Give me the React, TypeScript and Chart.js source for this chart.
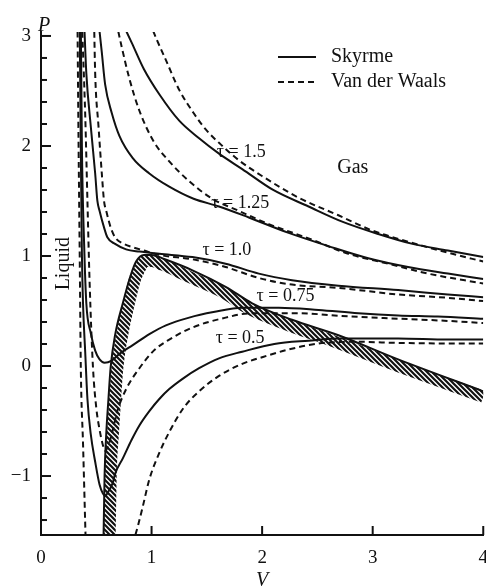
import React, { useEffect, useRef } from 'react';
import Chart from 'chart.js/auto';

const INK = '#111111';
const FONT = "'Liberation Serif', 'Times New Roman', serif";

// ---- axes ----
const X_MIN = 0;
const X_MAX = 4;
const Y_MIN = -1.536;
const Y_MAX = 3.036;
const X_TICKS = [0, 1, 2, 3, 4];
const Y_TICKS = [-1.4, -1.2, -1, -0.8, -0.6, -0.4, -0.2, 0, 0.2, 0.4, 0.6, 0.8, 1, 1.2, 1.4, 1.6, 1.8, 2, 2.2, 2.4, 2.6, 2.8, 3];
const Y_MAJOR = [-1, 0, 1, 2, 3];
const Y_LABELS = ['\u22121', '0', '1', '2', '3'];

// ---- Skyrme isotherms (solid) ----
const V_S15 = [0.73, 0.82, 0.93, 1.07, 1.25, 1.43, 1.61, 1.82, 2.10, 2.42, 2.73, 3.05, 3.36, 3.68, 4.0];
const P_S15 = [3.13, 2.94, 2.70, 2.47, 2.23, 2.07, 1.93, 1.79, 1.60, 1.45, 1.31, 1.20, 1.11, 1.05, 0.99];

const V_S125 = [0.52, 0.55, 0.58, 0.64, 0.71, 0.83, 0.98, 1.16, 1.38, 1.61, 1.88, 2.24, 2.60, 2.96, 3.32, 3.68, 4.0];
const P_S125 = [3.13, 2.85, 2.56, 2.30, 2.09, 1.89, 1.75, 1.63, 1.52, 1.45, 1.35, 1.21, 1.09, 0.98, 0.90, 0.84, 0.79];

const V_S10 = [0.39, 0.41, 0.45, 0.49, 0.51, 0.53, 0.57, 0.60, 0.67, 0.77, 0.89, 1.07, 1.37, 1.67, 1.97, 2.27, 2.69, 3.23, 3.68, 4.0];
const P_S10 = [3.13, 2.66, 2.18, 1.75, 1.50, 1.41, 1.26, 1.17, 1.11, 1.06, 1.04, 1.02, 0.99, 0.93, 0.84, 0.78, 0.73, 0.69, 0.65, 0.625];

const V_S075 = [0.36, 0.37, 0.39, 0.41, 0.45, 0.49, 0.53, 0.575, 0.64, 0.71, 0.83, 0.98, 1.13, 1.34, 1.56, 1.82, 2.15, 2.51, 2.87, 3.23, 3.59, 4.0];
const P_S075 = [3.13, 1.99, 1.11, 0.57, 0.30, 0.14, 0.06, 0.03, 0.05, 0.11, 0.19, 0.29, 0.37, 0.44, 0.49, 0.53, 0.53, 0.51, 0.48, 0.46, 0.45, 0.43];

const V_S05 = [0.35, 0.36, 0.37, 0.38, 0.40, 0.42, 0.45, 0.49, 0.53, 0.56, 0.58, 0.61, 0.65, 0.67, 0.74, 0.82, 0.89, 0.98, 1.07, 1.16, 1.29, 1.43, 1.61, 1.82, 2.11, 2.42, 2.71, 3.23, 3.68, 4.0];
const P_S05 = [3.13, 1.99, 1.02, 0.57, 0.125, -0.30, -0.62, -0.87, -1.08, -1.16, -1.18, -1.14, -1.06, -0.98, -0.84, -0.67, -0.54, -0.41, -0.30, -0.21, -0.11, -0.02, 0.07, 0.13, 0.20, 0.23, 0.25, 0.25, 0.24, 0.24];

// ---- Van der Waals isotherms (dashed) ----
const V_D15 = [0.98, 1.05, 1.13, 1.25, 1.38, 1.49, 1.63, 1.79, 2.01, 2.33, 2.69, 3.00, 3.32, 3.68, 4.0];
const P_D15 = [3.13, 2.96, 2.78, 2.51, 2.30, 2.15, 2.01, 1.87, 1.72, 1.53, 1.37, 1.23, 1.13, 1.03, 0.95];

const V_D125 = [0.68, 0.73, 0.80, 0.89, 1.02, 1.16, 1.34, 1.55, 1.79, 2.06, 2.42, 2.78, 3.14, 3.50, 4.0];
const P_D125 = [3.13, 2.90, 2.61, 2.32, 2.04, 1.86, 1.68, 1.52, 1.41, 1.29, 1.16, 1.02, 0.93, 0.84, 0.75];

const V_D10 = [0.48, 0.49, 0.52, 0.55, 0.57, 0.59, 0.63, 0.67, 0.75, 0.83, 0.93, 1.07, 1.37, 1.67, 1.97, 2.27, 2.69, 3.23, 3.68, 4.0];
const P_D10 = [3.13, 2.66, 2.18, 1.75, 1.50, 1.41, 1.26, 1.17, 1.11, 1.08, 1.05, 1.01, 0.97, 0.90, 0.80, 0.74, 0.71, 0.65, 0.62, 0.59];

const V_D075 = [0.37, 0.40, 0.42, 0.44, 0.47, 0.50, 0.53, 0.56, 0.58, 0.61, 0.65, 0.69, 0.77, 0.89, 1.02, 1.16, 1.37, 1.67, 1.91, 2.33, 2.71, 3.23, 3.68, 4.0];
const P_D075 = [3.13, 2.28, 1.50, 0.75, -0.01, -0.38, -0.58, -0.72, -0.77, -0.72, -0.58, -0.41, -0.21, -0.02, 0.14, 0.24, 0.35, 0.44, 0.48, 0.48, 0.455, 0.43, 0.41, 0.39];

const V_D05_LIQ = [0.33, 0.34, 0.35, 0.36, 0.38, 0.40, 0.405];
const P_D05_LIQ = [3.13, 1.99, 1.02, -0.01, -0.70, -1.44, -1.62];
const V_D05_GAS = [0.83, 0.88, 0.92, 0.98, 1.07, 1.16, 1.29, 1.43, 1.61, 1.82, 2.00, 2.24, 2.51, 2.87, 3.23, 3.68, 4.0];
const P_D05_GAS = [-1.62, -1.44, -1.28, -1.03, -0.79, -0.60, -0.38, -0.23, -0.09, 0.02, 0.08, 0.15, 0.205, 0.22, 0.21, 0.205, 0.205];

// ---- hatched band (edge line and hatch centre) ----
const V_BAND_EDGE = [0.565, 0.575, 0.59, 0.61, 0.63, 0.67, 0.74, 0.81, 0.86, 0.93, 1.00, 1.12, 1.37, 1.67, 1.91, 2.27, 2.69, 3.23, 4.0];
const P_BAND_EDGE = [-1.6, -1.00, -0.62, -0.30, -0.01, 0.28, 0.57, 0.82, 0.95, 1.01, 1.01, 0.97, 0.87, 0.72, 0.57, 0.42, 0.28, 0.06, -0.23];
const V_BAND_MID = [0.62, 0.63, 0.65, 0.67, 0.69, 0.73, 0.79, 0.85, 0.90, 0.94, 1.00, 1.10, 1.34, 1.645, 1.88, 2.24, 2.66, 3.20, 4.0];
const P_BAND_MID = [-1.6, -1.00, -0.62, -0.30, -0.02, 0.26, 0.55, 0.79, 0.90, 0.955, 0.955, 0.92, 0.81, 0.67, 0.52, 0.37, 0.22, 0.01, -0.28];

// ---- texts ----
const LEGEND_ITEMS = ['Skyrme', 'Van der Waals'];
const CURVE_LABELS = ['\u03c4 = 1.5', '\u03c4 = 1.25', '\u03c4 = 1.0', '\u03c4 = 0.75', '\u03c4 = 0.5'];
// label anchors (left edge, vertical centre) in data units
const CURVE_LABEL_AT = [[1.59, 1.94], [1.54, 1.48], [1.46, 1.05], [1.95, 0.63], [1.58, 0.25]];
const REGION_LABELS = ['Gas', 'Liquid'];
const REGION_LABEL_AT = [[2.82, 1.80], [0.21, 0.93]];

const pts = (v: number[], p: number[]) => v.map((x, i) => ({ x, y: p[i] }));

const curve = (label: string, v: number[], p: number[], dashed: boolean) => ({
  label,
  data: pts(v, p),
  borderColor: INK,
  borderWidth: 2,
  borderDash: dashed ? [6, 4] : [],
  pointRadius: 0,
  fill: false,
  cubicInterpolationMode: 'monotone' as const,
  clip: 0,
  order: 0,
});

function makeHatch(ctx: CanvasRenderingContext2D) {
  const c = document.createElement('canvas');
  c.width = 5;
  c.height = 5;
  const g = c.getContext('2d')!;
  g.strokeStyle = INK;
  g.lineWidth = 2.2;
  g.beginPath();
  g.moveTo(-1, -1);
  g.lineTo(6, 6);
  g.moveTo(-1, 4);
  g.lineTo(1, 6);
  g.moveTo(4, -1);
  g.lineTo(6, 1);
  g.stroke();
  return ctx.createPattern(c, 'repeat');
}

const decorPlugin = {
  id: 'decor',
  afterDraw(chart: any) {
    const { ctx, chartArea } = chart;
    const xs = chart.scales.x;
    const ys = chart.scales.y;
    ctx.save();
    ctx.strokeStyle = INK;
    ctx.fillStyle = INK;
    ctx.lineWidth = 2;
    ctx.setLineDash([]);
    // inward ticks
    ys.ticks.forEach((t: any) => {
      const py = ys.getPixelForValue(t.value);
      const len = Y_MAJOR.includes(t.value) ? 10 : 6;
      ctx.beginPath();
      ctx.moveTo(chartArea.left, py);
      ctx.lineTo(chartArea.left + len, py);
      ctx.stroke();
    });
    xs.ticks.forEach((t: any) => {
      const px = xs.getPixelForValue(t.value);
      ctx.beginPath();
      ctx.moveTo(px, chartArea.bottom);
      ctx.lineTo(px, chartArea.bottom - 9);
      ctx.stroke();
    });
    // P axis title
    ctx.font = `italic 20px ${FONT}`;
    ctx.textAlign = 'center';
    ctx.textBaseline = 'middle';
    ctx.fillText('P', chartArea.left + 3, chartArea.top - 6);

    // legend
    const lx = chartArea.left + 237;
    const ly = chartArea.top + 25;
    ctx.font = `20px ${FONT}`;
    ctx.textAlign = 'left';
    LEGEND_ITEMS.forEach((name, i) => {
      const y = ly + i * 25;
      ctx.setLineDash(i === 0 ? [] : [6, 4]);
      ctx.beginPath();
      ctx.moveTo(lx, y);
      ctx.lineTo(lx + 38, y);
      ctx.stroke();
      ctx.setLineDash([]);
      ctx.fillText(name, lx + 53, y);
    });

    // curve labels
    ctx.font = `18px ${FONT}`;
    CURVE_LABELS.forEach((txt, i) => {
      const [v, p] = CURVE_LABEL_AT[i];
      ctx.fillText(txt, xs.getPixelForValue(v), ys.getPixelForValue(p));
    });

    // region labels
    ctx.font = `20px ${FONT}`;
    {
      const [v, p] = REGION_LABEL_AT[0];
      ctx.textAlign = 'center';
      ctx.fillText(REGION_LABELS[0], xs.getPixelForValue(v), ys.getPixelForValue(p));
    }
    {
      const [v, p] = REGION_LABEL_AT[1];
      ctx.translate(xs.getPixelForValue(v), ys.getPixelForValue(p));
      ctx.rotate(-Math.PI / 2);
      ctx.textAlign = 'center';
      ctx.fillText(REGION_LABELS[1], 0, 0);
    }
    ctx.restore();
  },
};

export default function App() {
  const ref = useRef<HTMLCanvasElement | null>(null);

  useEffect(() => {
    const canvas = ref.current;
    if (!canvas) return;
    const ctx2d = canvas.getContext('2d')!;
    const hatch = makeHatch(ctx2d);

    const datasets: any[] = [
      curve('Skyrme \u03c4=1.5', V_S15, P_S15, false),
      curve('Skyrme \u03c4=1.25', V_S125, P_S125, false),
      curve('Skyrme \u03c4=1.0', V_S10, P_S10, false),
      curve('Skyrme \u03c4=0.75', V_S075, P_S075, false),
      curve('Skyrme \u03c4=0.5', V_S05, P_S05, false),
      curve('VdW \u03c4=1.5', V_D15, P_D15, true),
      curve('VdW \u03c4=1.25', V_D125, P_D125, true),
      curve('VdW \u03c4=1.0', V_D10, P_D10, true),
      curve('VdW \u03c4=0.75', V_D075, P_D075, true),
      curve('VdW \u03c4=0.5 (liquid)', V_D05_LIQ, P_D05_LIQ, true),
      curve('VdW \u03c4=0.5 (gas)', V_D05_GAS, P_D05_GAS, true),
      {
        label: 'band edge',
        data: pts(V_BAND_EDGE, P_BAND_EDGE),
        borderColor: INK,
        borderWidth: 2,
        pointRadius: 0,
        fill: false,
        cubicInterpolationMode: 'monotone',
        clip: 0,
        order: 5,
      },
      {
        label: 'band hatch',
        data: pts(V_BAND_MID, P_BAND_MID),
        borderColor: hatch,
        borderWidth: 12,
        borderCapStyle: 'butt',
        borderJoinStyle: 'round',
        pointRadius: 0,
        fill: false,
        cubicInterpolationMode: 'monotone',
        clip: 0,
        order: 10,
      },
    ];

    const chart = new Chart(canvas, {
      type: 'line',
      data: { datasets },
      options: {
        animation: false,
        responsive: false,
        events: [],
        layout: { padding: { top: 32, right: 14, bottom: 0, left: 0 } },
        plugins: {
          legend: { display: false },
          tooltip: { enabled: false },
          title: { display: false },
        },
        scales: {
          x: {
            type: 'linear',
            min: X_MIN,
            max: X_MAX,
            afterBuildTicks: (s: any) => {
              s.ticks = X_TICKS.map((value) => ({ value }));
            },
            afterFit: (s: any) => {
              s.height = 65;
            },
            grid: { display: false, drawTicks: false },
            border: { display: true, color: INK, width: 2 },
            ticks: {
              color: INK,
              font: { family: FONT, size: 19 },
              padding: 12,
              autoSkip: false,
              maxRotation: 0,
              callback: (v: any) => String(v),
            },
            title: {
              display: true,
              text: 'V',
              color: INK,
              font: { family: FONT, size: 20, style: 'italic' },
              padding: { top: 0, bottom: 7 },
            },
          },
          y: {
            type: 'linear',
            min: Y_MIN,
            max: Y_MAX,
            afterBuildTicks: (s: any) => {
              s.ticks = Y_TICKS.map((value) => ({ value }));
            },
            afterFit: (s: any) => {
              s.width = 41;
            },
            grid: { display: false, drawTicks: false },
            border: { display: true, color: INK, width: 2 },
            ticks: {
              color: INK,
              font: { family: FONT, size: 19 },
              padding: 10,
              autoSkip: false,
              callback: (v: any) => {
                const i = Y_MAJOR.indexOf(v);
                return i >= 0 ? Y_LABELS[i] : '';
              },
            },
          },
        },
      } as any,
      plugins: [decorPlugin],
    });

    return () => chart.destroy();
  }, []);

  return (
    <div style={{ position: 'fixed', left: 0, top: 0, width: 500, height: 600, background: '#fff' }}>
      <canvas ref={ref} width={500} height={600} style={{ width: 500, height: 600, display: 'block' }} />
    </div>
  );
}
